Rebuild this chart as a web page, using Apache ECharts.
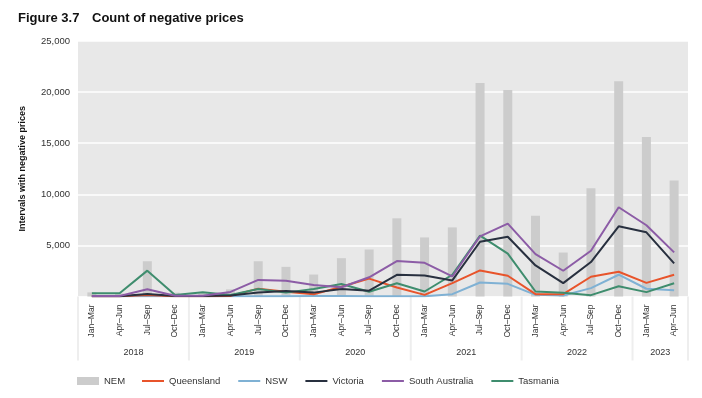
<!DOCTYPE html>
<html>
<head>
<meta charset="utf-8">
<script src="https://cdn.jsdelivr.net/npm/echarts@6/dist/echarts.min.js"></script>
<style>
html,body{margin:0;padding:0;background:#fff;}
#main{width:702px;height:398px;}
</style>
</head>
<body>
<div id="main"></div>
<script>
var quarters = ['Jan–Mar','Apr–Jun','Jul–Sep','Oct–Dec','Jan–Mar','Apr–Jun','Jul–Sep','Oct–Dec','Jan–Mar','Apr–Jun','Jul–Sep','Oct–Dec',
	'Jan–Mar','Apr–Jun','Jul–Sep','Oct–Dec','Jan–Mar','Apr–Jun','Jul–Sep','Oct–Dec','Jan–Mar','Apr–Jun'];
var years = ['2018','2019','2020','2021','2022','2023'];
var yearStart = [0,4,8,12,16,20];
var yearEnd = [3,7,11,15,19,21];
var yTicks = [0,5000,10000,15000,20000,25000];

var nem = [400,300,3450,380,400,700,3450,2900,2150,3750,4600,7650,5780,6760,20880,20200,7900,4300,10600,21050,15600,11350];
var queensland = [20,30,150,30,20,60,770,470,210,960,1750,880,160,1310,2550,2030,230,230,1930,2420,1330,2120];
var nsw = [20,20,20,20,20,30,30,30,40,50,30,30,30,230,1370,1240,160,100,820,2130,760,600];
var victoria = [30,20,250,50,50,100,380,540,380,740,570,2120,2060,1570,5360,5850,3040,1310,3370,6870,6280,3240];
var southAustralia = [50,50,700,80,80,450,1620,1550,1130,900,1880,3470,3300,1960,5890,7130,4150,2520,4480,8730,6970,4320];
var tasmania = [310,310,2530,150,410,150,740,380,740,1230,470,1290,490,2130,5950,4190,490,360,130,1010,430,1300];

var font = 'Liberation Sans, Arial, Helvetica, sans-serif';

function lineSeries(name, data, color)
{
	return {
		name: name,
		type: 'line',
		data: data,
		symbol: 'none',
		lineStyle: {width: 2, color: color},
		itemStyle: {color: color},
		z: 3
	};
}

var legendText = {fontSize: 9.5, color: '#333', fontFamily: font};

var option = {
	animation: false,
	textStyle: {fontFamily: font},
	grid: {
		left: 78, right: 14, top: 41, bottom: 101.5,
		show: true, backgroundColor: '#e8e8e8', borderWidth: 0
	},
	legend: [
		{
			left: 72, top: 371,
			itemWidth: 22, itemHeight: 8, itemGap: 18,
			icon: 'rect',
			textStyle: legendText,
			data: ['NEM']
		},
		{
			left: 137, top: 371,
			itemWidth: 22, itemHeight: 2, itemGap: 18,
			icon: 'rect',
			textStyle: legendText,
			data: ['Queensland','NSW','Victoria','South Australia','Tasmania']
		}
	],
	xAxis: {
		type: 'category',
		data: quarters,
		axisLine: {show: false},
		axisTick: {show: false},
		axisLabel: {rotate: 90, fontSize: 8.5, color: '#333', margin: 8, interval: 0}
	},
	yAxis: {
		type: 'value',
		min: yTicks[0], max: yTicks[yTicks.length-1], interval: 5000,
		name: 'Intervals with negative prices',
		nameLocation: 'middle', nameGap: 51, nameRotate: 90,
		nameTextStyle: {fontSize: 9, fontWeight: 'bold', color: '#111', fontFamily: font},
		axisLine: {show: false},
		axisTick: {show: false},
		splitLine: {lineStyle: {color: '#ffffff', width: 1.5}},
		axisLabel: {
			fontSize: 9.5, color: '#333', margin: 8,
			formatter: function (v) {
				if (v == 0) return '';
				return v.toLocaleString('en-US');
			}
		}
	},
	series: [
		{
			name: 'NEM', type: 'bar', data: nem, barWidth: 9,
			itemStyle: {color: '#cccccc'}, z: 2
		},
		lineSeries('NSW', nsw, '#7fb1d4'),
		lineSeries('Queensland', queensland, '#e8542b'),
		lineSeries('Tasmania', tasmania, '#3f8d6e'),
		lineSeries('Victoria', victoria, '#28303f'),
		lineSeries('South Australia', southAustralia, '#8c5ca6')
	]
};

var myChart = echarts.init(document.getElementById('main'));
myChart.setOption(option);

// title and the year groups under the quarter labels
var graphics = [
	{type: 'text', left: 18, top: 12, style: {text: 'Figure 3.7', font: 'bold 13px ' + font, fill: '#111'}},
	{type: 'text', left: 92, top: 12, style: {text: 'Count of negative prices', font: 'bold 13px ' + font, fill: '#111'}}
];
var yBase = myChart.convertToPixel({yAxisIndex: 0}, 0);
var step = myChart.convertToPixel({xAxisIndex: 0}, 1) - myChart.convertToPixel({xAxisIndex: 0}, 0);
for (var i = 0; i < years.length; i++)
{
	var x0 = myChart.convertToPixel({xAxisIndex: 0}, yearStart[i]) - step / 2;
	var x1 = myChart.convertToPixel({xAxisIndex: 0}, yearEnd[i]) + step / 2;
	graphics.push({
		type: 'line', silent: true,
		shape: {x1: x0, y1: yBase, x2: x0, y2: yBase + 64},
		style: {stroke: '#eeeeee', lineWidth: 2}
	});
	graphics.push({
		type: 'text', silent: true,
		x: (x0 + x1) / 2, y: yBase + 56,
		style: {text: years[i], font: '9px ' + font, fill: '#333', align: 'center', verticalAlign: 'middle'}
	});
	if (i == years.length - 1)
	{
		graphics.push({
			type: 'line', silent: true,
			shape: {x1: x1, y1: yBase, x2: x1, y2: yBase + 64},
			style: {stroke: '#eeeeee', lineWidth: 2}
		});
	}
}
myChart.setOption({graphic: graphics});
</script>
</body>
</html>
